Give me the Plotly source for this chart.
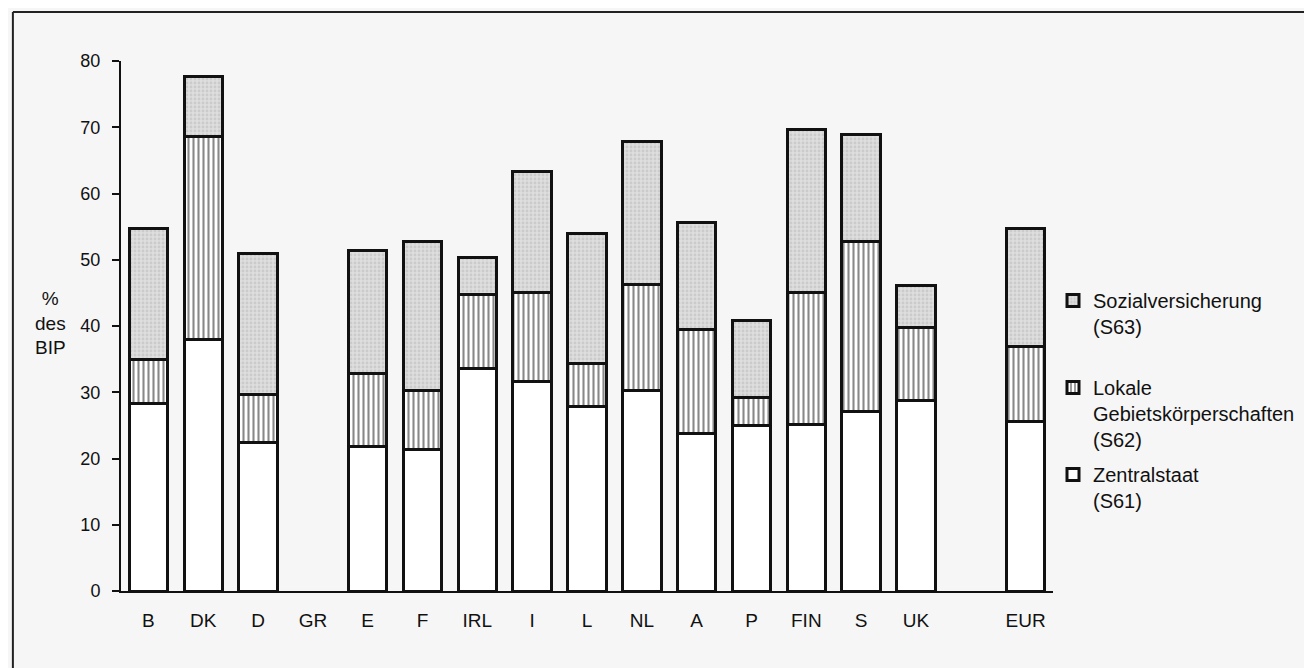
import plotly.graph_objects as go

categories = ["B", "DK", "D", "GR", "E", "F", "IRL", "I", "L", "NL", "A", "P", "FIN", "S", "UK", " ", "EUR"]
zentralstaat_s61 = [28.3, 38.0, 22.4, None, 21.8, 21.3, 33.6, 31.6, 27.9, 30.2, 23.8, 25.0, 25.1, 27.1, 28.7, None, 25.6]
lokale_s62 = [6.7, 30.6, 7.3, None, 11.1, 8.9, 11.2, 13.5, 6.4, 16.0, 15.7, 4.2, 19.9, 25.6, 11.0, None, 11.3]
sozial_s63 = [19.7, 9.0, 21.3, None, 18.5, 22.6, 5.6, 18.2, 19.6, 21.7, 16.1, 11.6, 24.6, 16.2, 6.4, None, 17.8]
y_ticks = [0, 10, 20, 30, 40, 50, 60, 70, 80]

FONT = "Liberation Sans, Arial, Helvetica, sans-serif"
BG = "#f6f6f6"
INK = "#111111"
outline = dict(color=INK, width=3)

fig = go.Figure()
fig.add_trace(go.Bar(
    x=categories, y=zentralstaat_s61, name="Zentralstaat<br>(S61)",
    legendgroup="s61", legendrank=3, width=0.7,
    marker=dict(color="white", line=outline),
))
fig.add_trace(go.Bar(
    x=categories, y=lokale_s62, name="Lokale<br>Gebietskörperschaften<br>(S62)",
    legendgroup="s62", legendrank=2, width=0.7,
    marker=dict(color="white", line=outline,
                pattern=dict(shape="|", fgcolor=INK, bgcolor="white",
                             size=5, solidity=0.42)),
))
fig.add_trace(go.Bar(
    x=categories, y=sozial_s63, name="Sozialversicherung<br>(S63)<br> ",
    legendgroup="s63", legendrank=1, width=0.7,
    marker=dict(color="#d8d8d8", line=outline,
                pattern=dict(shape=".", fgcolor="#b8b8b8", bgcolor="#dedede",
                             size=4, solidity=0.4)),
))

fig.update_layout(
    barmode="stack",
    width=1304, height=660,
    margin=dict(l=113, r=259, t=53, b=77),
    paper_bgcolor=BG, plot_bgcolor=BG,
    font=dict(family=FONT, size=18, color=INK),
    showlegend=True,
    legend=dict(
        x=1.0, y=0.585, xanchor="left", yanchor="top",
        traceorder="grouped", tracegroupgap=6,
        valign="top", itemwidth=30, bgcolor="rgba(0,0,0,0)",
        font=dict(family=FONT, size=20, color=INK),
    ),
    xaxis=dict(
        type="category", categoryorder="array", categoryarray=categories,
        range=[-0.5, 16.5], showgrid=False, zeroline=False,
        showline=True, linecolor=INK, linewidth=2,
        ticks="", ticklabelstandoff=11,
        tickfont=dict(family=FONT, size=19, color=INK),
    ),
    yaxis=dict(
        range=[0, 80], tickvals=y_ticks, showgrid=False, zeroline=False,
        showline=True, linecolor=INK, linewidth=2,
        ticks="outside", ticklen=7, tickwidth=2, tickcolor=INK,
        ticklabelstandoff=8,
        tickfont=dict(family=FONT, size=18, color=INK),
    ),
    annotations=[
        dict(text="%<br>des<br>BIP", xref="paper", yref="paper",
             x=-0.076, y=0.505, xanchor="center", yanchor="middle",
             showarrow=False, align="center",
             font=dict(family=FONT, size=19, color=INK)),
    ],
    shapes=[
        dict(type="line", xref="paper", yref="paper",
             x0=-0.116, x1=1.3, y0=1.0925, y1=1.0925,
             line=dict(color="#222222", width=2)),
        dict(type="line", xref="paper", yref="paper",
             x0=-0.116, x1=-0.116, y0=-0.2, y1=1.0925,
             line=dict(color="#222222", width=2)),
    ],
)

fig.write_html("out.html")
